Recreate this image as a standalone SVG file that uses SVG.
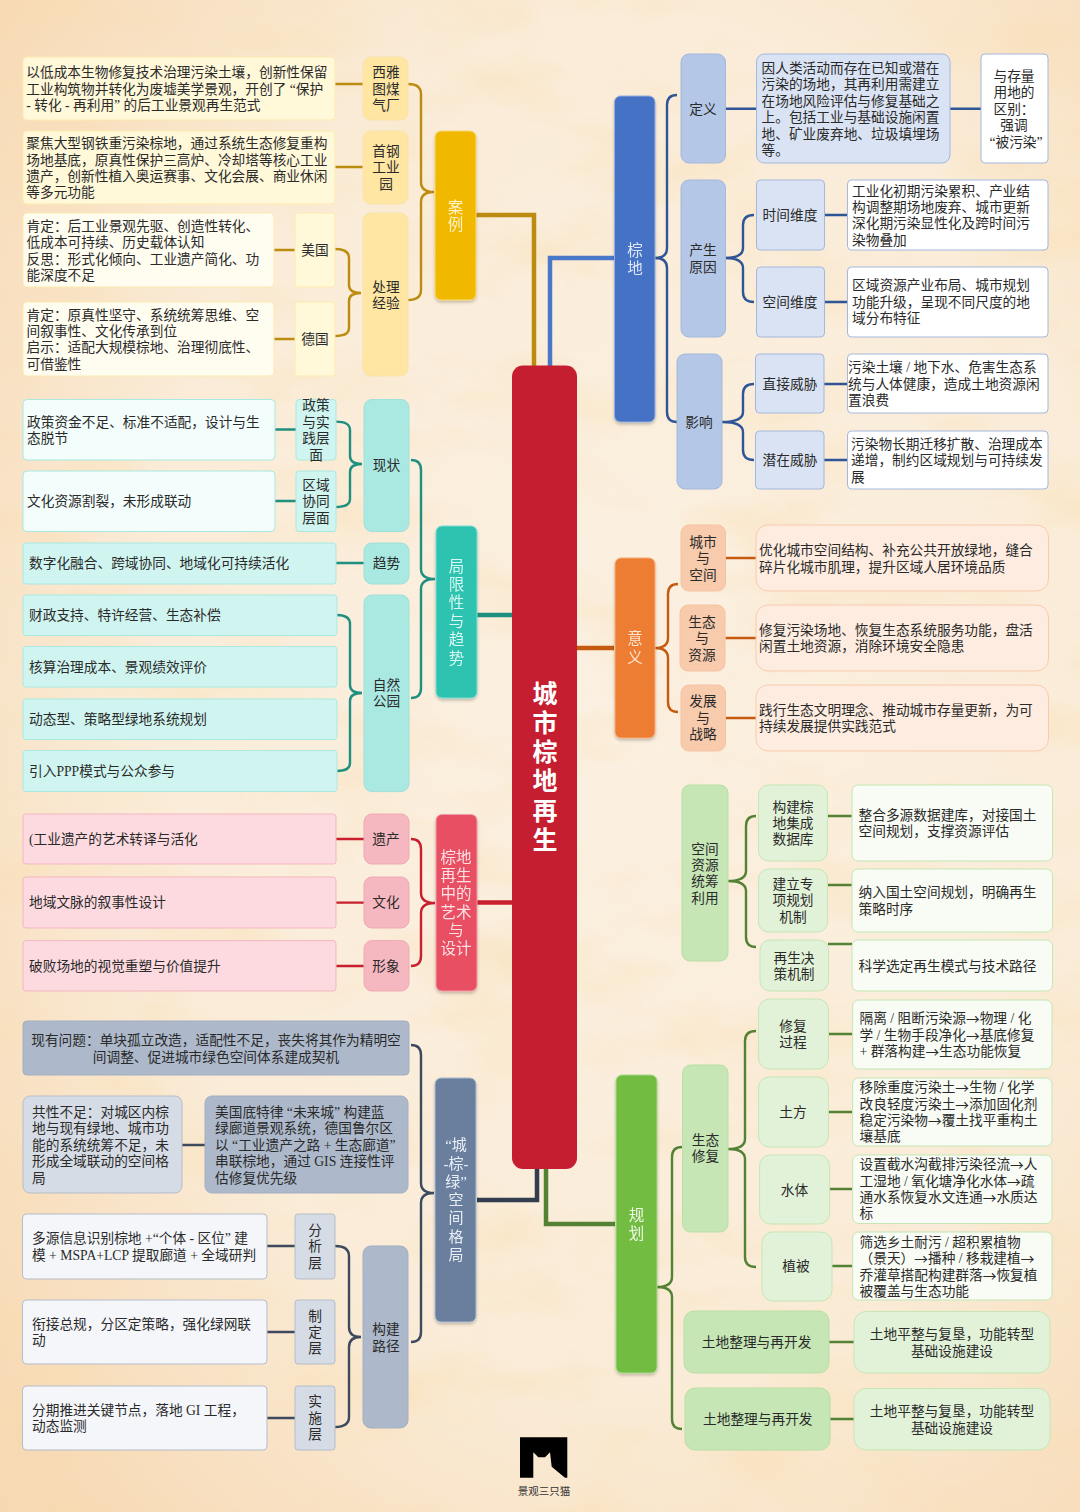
<svg xmlns="http://www.w3.org/2000/svg" width="1080" height="1512" viewBox="0 0 1080 1512">
<style>
text{font-family:"Liberation Serif","Noto Sans CJK SC",sans-serif;font-size:13.7px;fill:#2a2a2a;dominant-baseline:central}
.c{text-anchor:middle}
.w{font-size:15.5px;fill:#fff;text-anchor:middle}
.a{font-family:"Noto Sans CJK SC",sans-serif}
path{fill:none;stroke-linejoin:miter}
rect{stroke-width:1}
.y0{fill:#f1b800;stroke:#f9d873}.y1{fill:#ffe6a3;stroke:#fbe3a8}.y2{fill:#fff8d9;stroke:#fdeab0}.y3{fill:#fffcf0;stroke:#fdeab0}
.t0{fill:#2fc3b0;stroke:#7fdccf}.t1{fill:#a9e9e1;stroke:#9fe0d8}.t2{fill:#d0f5f0;stroke:#a9e9e1}.t3{fill:#f3fdfb;stroke:#a9e9e1}
.r0{fill:#e84f62;stroke:#f29aa5}.r1{fill:#f5b7c0;stroke:#f2a9b3}.r2{fill:#fcdae0;stroke:#f5b7c0}
.s0{fill:#6a7f9e;stroke:#aebcd0}.s1{fill:#adb9ca;stroke:#a3afc1}.s2{fill:#d6dce5;stroke:#b5bdc9}.s3{fill:#f4f6fa;stroke:#b5bdc9}
.b0{fill:#4472c4;stroke:#93aee0}.b1{fill:#b4c7e7;stroke:#a3b8dc}.b2{fill:#dae3f3;stroke:#a3b8dc}.b3{fill:#fff;stroke:#a3b8dc}
.o0{fill:#ed7d31;stroke:#f5ad7a}.o1{fill:#f8cbad;stroke:#f6c3a2}.o2{fill:#fdecdf;stroke:#f8cbad}
.g0{fill:#72bc42;stroke:#a7d88a}.g1{fill:#c6e6b5;stroke:#b9dfa5}.g2{fill:#e2f2d8;stroke:#c6e6b5}.g3{fill:#f8fcf4;stroke:#c6e6b5}
.ly{stroke:#bb8c10}.lt{stroke:#1f9080}.lr{stroke:#c8202f}.ls{stroke:#3d4a5e}.lb{stroke:#2f5597}.lo{stroke:#c55a11}.lg{stroke:#548235}
.thin{stroke-width:2.4}.thick{stroke-width:4.5}
.sh{filter:url(#sh)}
</style>
<defs>
<radialGradient id="bg" cx="0.58" cy="0.46" r="0.75">
<stop offset="0" stop-color="#fbf0e1"/><stop offset="0.6" stop-color="#faecd8"/><stop offset="1" stop-color="#f7d9b3"/>
</radialGradient>
<filter id="sh" x="-30%" y="-10%" width="160%" height="120%"><feDropShadow dx="0" dy="2" stdDeviation="1.5" flood-color="#000" flood-opacity="0.22"/></filter>
<filter id="veins" x="0" y="0" width="100%" height="100%">
<feTurbulence type="fractalNoise" baseFrequency="0.007 0.014" numOctaves="5" seed="7"/>
<feColorMatrix values="0 0 0 0 0.95  0 0 0 0 0.72  0 0 0 0 0.42  2.6 0 0 0 -1.25"/>
</filter>
</defs>
<rect id="background" width="1080" height="1512" fill="url(#bg)" stroke="none"/>
<rect width="1080" height="1512" filter="url(#veins)" opacity="0.4" stroke="none"/>

<g id="connectors">
<path class="ly thick" d="M476 215H534V366"/>
<path class="thick" style="stroke:#4a78c8" d="M614 258H550V366"/>
<path class="lt thick" d="M477 615H512"/>
<path class="lr thick" d="M477 902.600H512"/>
<path class="lo thick" d="M577 648H614"/>
<path class="thick" style="stroke:#323e50" d="M477 1200H537V1169"/>
<path class="lg thick" d="M615 1224H546V1169"/>

<path class="ly thin" d="M335 84H363M335 167H363M274 250H295M274 339H295"/>
<path class="ly thin" d="M335 249Q349 249 349 258V285Q349 293 361 293M335 336Q349 336 349 328V301Q349 293 361 293"/>
<path class="ly thin" d="M408 84Q421 84 421 94V182Q421 192 434 192M408 300Q421 300 421 290V202Q421 192 434 192"/>

<path class="lt thin" d="M275 429.500H296M275 501H296M336 563H364"/>
<path class="lt thin" d="M336 421.600Q350 421.600 350 430V456Q350 464 362 464M336 507Q350 507 350 499V472Q350 464 362 464"/>
<path class="lt thin" d="M337 615Q350 615 350 624V685Q350 693 362 693M337 771Q350 771 350 763V701Q350 693 362 693"/>
<path class="lt thin" d="M411 460Q421 460 421 470V569Q421 579 435 579M411 698Q421 698 421 688V589Q421 579 435 579"/>

<path class="lr thin" d="M336 839H364M336 902.600H364M336 966H364"/>
<path class="lr thin" d="M411 839Q421 839 421 849V893Q421 903 435 903M411 966Q421 966 421 956V913Q421 903 435 903"/>

<path class="ls thin" d="M182 1145H205M267 1246H295M267 1332H295M267 1418H295"/>
<path class="ls thin" d="M335 1246Q349 1246 349 1256V1327Q349 1337 361 1337M335 1427Q349 1427 349 1417V1347Q349 1337 361 1337"/>
<path class="ls thin" d="M411 1045Q421 1045 421 1055V1183Q421 1193 434 1193M411 1342Q421 1342 421 1332V1203Q421 1193 434 1193"/>

<path class="lb thin" d="M725 108.700H756M950 108.700H981M824 215H847M824 302H847M824 384H847M824 460H847"/>
<path class="lb thin" d="M655 258Q667 258 667 248V105Q667 95 677 95M655 258Q667 258 667 268V412Q667 422 677 422"/>
<path class="lb thin" d="M725 258Q743 258 743 248V225Q743 215 754 215M725 258Q743 258 743 268V292Q743 302 754 302"/>
<path class="lb thin" d="M722 422Q743 422 743 412V394Q743 384 754 384M722 422Q743 422 743 432V450Q743 460 754 460"/>

<path class="lo thin" d="M725.500 558H756M725.500 638H756M725.500 718H756"/>
<path class="lo thin" d="M655 648Q668 648 668 638V594Q668 584 678 584M655 648Q668 648 668 658V702Q668 712 678 712"/>

<path class="lg thin" d="M828 816H852M828 885H852M828 944H852"/>
<path class="lg thin" d="M728 881Q746 881 746 871V826Q746 816 756 816M728 881Q746 881 746 891V937Q746 947 756 947"/>
<path class="lg thin" d="M828 1034H852M828 1112H852M829 1189H852M832 1266H852M829 1342H854M830 1419H854"/>
<path class="lg thin" d="M728 1149Q745 1149 745 1139V1041Q745 1031 756 1031M728 1149Q745 1149 745 1159V1257Q745 1267 756 1267"/>
<path class="lg thin" d="M657 1287Q672 1287 672 1277V1157Q672 1147 682 1147M657 1287Q672 1287 672 1297V1419Q672 1429 682 1429"/>
</g>

<g id="root"><rect x="512" y="365.500" width="65" height="803.500" rx="11" fill="#c41e30" stroke="none"/>
<text x="545" style="font-size:25px;font-weight:700;fill:#fff;text-anchor:middle"><tspan x="545" y="694">城</tspan><tspan x="545" y="723">市</tspan><tspan x="545" y="752">棕</tspan><tspan x="545" y="781">地</tspan><tspan x="545" y="811">再</tspan><tspan x="545" y="840">生</tspan></text></g>

<!-- 案例 -->
<g id="n-case" class="sh"><rect class="y0" x="435" y="131" width="41" height="169" rx="6"/><text class="w" style="fill:#fff3c8"><tspan x="455.500" y="207">案</tspan><tspan x="455.500" y="224">例</tspan></text></g>
<g id="n-seattle"><rect class="y1" x="363" y="57" width="45" height="63" rx="8"/><text class="c"><tspan x="386" y="72">西雅</tspan><tspan x="386" y="88.700">图煤</tspan><tspan x="386" y="105">气厂</tspan></text></g>
<g id="t-seattle"><rect class="y2" x="23" y="57" width="312" height="63" rx="4"/><text><tspan x="26.300" y="72">以低成本生物修复技术治理污染土壤，创新性保留</tspan><tspan x="26.300" y="88.700">工业构筑物并转化为废墟美学景观，开创了 “保护</tspan><tspan x="26.300" y="105">- 转化 - 再利用” 的后工业景观再生范式</tspan></text></g>
<g id="n-shougang"><rect class="y1" x="363" y="131" width="45" height="73" rx="8"/><text class="c"><tspan x="386" y="151">首钢</tspan><tspan x="386" y="167">工业</tspan><tspan x="386" y="184">园</tspan></text></g>
<g id="t-shougang"><rect class="y2" x="23" y="131" width="312" height="73" rx="4"/><text><tspan x="26.300" y="143">聚焦大型钢铁重污染棕地，通过系统生态修复重构</tspan><tspan x="26.300" y="160">场地基底，原真性保护三高炉、冷却塔等核心工业</tspan><tspan x="26.300" y="176">遗产，创新性植入奥运赛事、文化会展、商业休闲</tspan><tspan x="26.300" y="192">等多元功能</tspan></text></g>
<g id="n-exp"><rect class="y1" x="363" y="213" width="45" height="163" rx="8"/><text class="c"><tspan x="386" y="287">处理</tspan><tspan x="386" y="303">经验</tspan></text></g>
<g id="n-us"><rect class="y2" x="295" y="213" width="40" height="74" rx="3"/><text class="c" x="315" y="250">美国</text></g>
<g id="t-us"><rect class="y3" x="23" y="213" width="251" height="74" rx="4"/><text><tspan x="26.500" y="226">肯定：后工业景观先驱、创造性转化、</tspan><tspan x="26.500" y="242">低成本可持续、历史载体认知</tspan><tspan x="26.500" y="259">反思：形式化倾向、工业遗产简化、功</tspan><tspan x="26.500" y="275">能深度不足</tspan></text></g>
<g id="n-de"><rect class="y2" x="295" y="302" width="40" height="74" rx="3"/><text class="c" x="315" y="339">德国</text></g>
<g id="t-de"><rect class="y3" x="23" y="302" width="251" height="74" rx="4"/><text><tspan x="26.500" y="315">肯定：原真性坚守、系统统筹思维、空</tspan><tspan x="26.500" y="331">间叙事性、文化传承到位</tspan><tspan x="26.500" y="347">启示：适配大规模棕地、治理彻底性、</tspan><tspan x="26.500" y="364">可借鉴性</tspan></text></g>

<!-- 局限性与趋势 -->
<g id="n-limit" class="sh"><rect class="t0" x="436" y="526" width="41" height="172" rx="6"/><text class="w" style="fill:#d6f7f2"><tspan x="456.500" y="566">局</tspan><tspan x="456.500" y="584">限</tspan><tspan x="456.500" y="602">性</tspan><tspan x="456.500" y="621">与</tspan><tspan x="456.500" y="639">趋</tspan><tspan x="456.500" y="657.600">势</tspan></text></g>
<g id="n-status"><rect class="t1" x="364" y="399.500" width="45" height="132" rx="8"/><text class="c" x="386.500" y="465">现状</text></g>
<g id="n-policy"><rect class="t2" x="296" y="399.500" width="40" height="60.500" rx="3"/><text class="c"><tspan x="316" y="405">政策</tspan><tspan x="316" y="421.600">与实</tspan><tspan x="316" y="438">践层</tspan><tspan x="316" y="455">面</tspan></text></g>
<g id="t-policy"><rect class="t3" x="23" y="399.500" width="252" height="60.500" rx="4"/><text><tspan x="27" y="421.600">政策资金不足、标准不适配，设计与生</tspan><tspan x="27" y="438">态脱节</tspan></text></g>
<g id="n-region"><rect class="t2" x="296" y="471" width="40" height="60.500" rx="3"/><text class="c"><tspan x="316" y="485">区域</tspan><tspan x="316" y="501">协同</tspan><tspan x="316" y="517.700">层面</tspan></text></g>
<g id="t-region"><rect class="t3" x="23" y="471" width="252" height="60.500" rx="4"/><text x="27" y="501">文化资源割裂，未形成联动</text></g>
<g id="n-trend"><rect class="t1" x="364" y="543" width="45" height="41" rx="8"/><text class="c" x="386.500" y="563">趋势</text></g>
<g id="t-trend"><rect class="t2" x="23" y="543" width="313" height="41" rx="3"/><text x="29" y="563">数字化融合、跨域协同、地域化可持续活化</text></g>
<g id="n-park"><rect class="t1" x="364" y="595" width="45" height="196.600" rx="8"/><text class="c"><tspan x="386.500" y="685">自然</tspan><tspan x="386.500" y="701">公园</tspan></text></g>
<g id="t-park1"><rect class="t2" x="23" y="595" width="314" height="40.500" rx="3"/><text x="29" y="615">财政支持、特许经营、生态补偿</text></g>
<g id="t-park2"><rect class="t2" x="23" y="646.500" width="314" height="40.500" rx="3"/><text x="29" y="667">核算治理成本、景观绩效评价</text></g>
<g id="t-park3"><rect class="t2" x="23" y="699" width="314" height="40.500" rx="3"/><text x="29" y="719">动态型、策略型绿地系统规划</text></g>
<g id="t-park4"><rect class="t2" x="23" y="750.500" width="314" height="41" rx="3"/><text x="29" y="771">引入PPP模式与公众参与</text></g>

<!-- 艺术与设计 -->
<g id="n-art" class="sh"><rect class="r0" x="436" y="814.500" width="41" height="176.500" rx="6"/><text class="w" style="fill:#fde0e4"><tspan x="456" y="857">棕地</tspan><tspan x="456" y="875">再生</tspan><tspan x="456" y="893">中的</tspan><tspan x="456" y="911.700">艺术</tspan><tspan x="456" y="930">与</tspan><tspan x="456" y="948">设计</tspan></text></g>
<g id="n-heritage"><rect class="r1" x="364" y="814" width="45" height="50" rx="8"/><text class="c" x="386" y="839">遗产</text></g>
<g id="t-heritage"><rect class="r2" x="23" y="814" width="313" height="50" rx="3"/><text x="29" y="839">(工业遗产的艺术转译与活化</text></g>
<g id="n-culture"><rect class="r1" x="364" y="877" width="45" height="51" rx="8"/><text class="c" x="386" y="902.600">文化</text></g>
<g id="t-culture"><rect class="r2" x="23" y="877" width="313" height="51" rx="3"/><text x="29" y="902.600">地域文脉的叙事性设计</text></g>
<g id="n-image"><rect class="r1" x="364" y="940.600" width="45" height="50.400" rx="8"/><text class="c" x="386" y="966">形象</text></g>
<g id="t-image"><rect class="r2" x="23" y="940.600" width="313" height="50.400" rx="3"/><text x="29" y="966">破败场地的视觉重塑与价值提升</text></g>

<!-- 城棕绿 -->
<g id="n-pattern" class="sh"><rect class="s0" x="435" y="1078" width="41" height="244" rx="6"/><text class="w" style="fill:#e9eef5;font-size:15px"><tspan x="456" y="1145">“城</tspan><tspan x="456" y="1164">-棕-</tspan><tspan x="456" y="1182">绿”</tspan><tspan x="456" y="1200">空</tspan><tspan x="456" y="1218">间</tspan><tspan x="456" y="1237">格</tspan><tspan x="456" y="1255">局</tspan></text></g>
<g id="t-issue"><rect class="s1" x="23" y="1021" width="386" height="54" rx="4"/><text class="c"><tspan x="216" y="1040">现有问题：单块孤立改造，适配性不足，丧失将其作为精明空</tspan><tspan x="216" y="1056.500">间调整、促进城市绿色空间体系建成契机</tspan></text></g>
<g id="t-common"><rect class="s2" x="23" y="1096" width="159" height="97" rx="7"/><text><tspan x="32" y="1112">共性不足：对城区内棕</tspan><tspan x="32" y="1128">地与现有绿地、城市功</tspan><tspan x="32" y="1145">能的系统统筹不足，未</tspan><tspan x="32" y="1161">形成全域联动的空间格</tspan><tspan x="32" y="1178">局</tspan></text></g>
<g id="t-detroit"><rect class="s1" x="205" y="1096" width="203" height="97" rx="7"/><text><tspan x="215" y="1112">美国底特律 “未来城” 构建蓝</tspan><tspan x="215" y="1128">绿廊道景观系统，德国鲁尔区</tspan><tspan x="215" y="1145">以 “工业遗产之路 + 生态廊道”</tspan><tspan x="215" y="1161">串联棕地，通过 GIS 连接性评</tspan><tspan x="215" y="1178">估修复优先级</tspan></text></g>
<g id="n-route"><rect class="s1" x="363" y="1246" width="45" height="182" rx="8"/><text class="c"><tspan x="386" y="1329">构建</tspan><tspan x="386" y="1346">路径</tspan></text></g>
<g id="n-analysis"><rect class="s2" x="295" y="1214" width="40" height="65" rx="3"/><text class="c"><tspan x="315" y="1230">分</tspan><tspan x="315" y="1246">析</tspan><tspan x="315" y="1263">层</tspan></text></g>
<g id="t-analysis"><rect class="s3" x="22.500" y="1214" width="244.500" height="65" rx="4"/><text><tspan x="32" y="1238">多源信息识别棕地 +“个体 - 区位” 建</tspan><tspan x="32" y="1255">模 + MSPA+LCP 提取廊道 + 全域研判</tspan></text></g>
<g id="n-plan"><rect class="s2" x="295" y="1300" width="40" height="64" rx="3"/><text class="c"><tspan x="315" y="1316">制</tspan><tspan x="315" y="1332">定</tspan><tspan x="315" y="1348">层</tspan></text></g>
<g id="t-plan"><rect class="s3" x="22.500" y="1300" width="244.500" height="64" rx="4"/><text><tspan x="32" y="1324">衔接总规，分区定策略，强化绿网联</tspan><tspan x="32" y="1340">动</tspan></text></g>
<g id="n-impl"><rect class="s2" x="295" y="1386" width="40" height="64" rx="3"/><text class="c"><tspan x="315" y="1401">实</tspan><tspan x="315" y="1418">施</tspan><tspan x="315" y="1434">层</tspan></text></g>
<g id="t-impl"><rect class="s3" x="22.500" y="1386" width="244.500" height="64" rx="4"/><text><tspan x="32" y="1410">分期推进关键节点，落地 GI 工程，</tspan><tspan x="32" y="1426">动态监测</tspan></text></g>

<!-- 棕地 -->
<g id="n-brown" class="sh"><rect class="b0" x="614.500" y="96" width="40.500" height="326" rx="6"/><text class="w" style="fill:#dfe8f8"><tspan x="635" y="250">棕</tspan><tspan x="635" y="268">地</tspan></text></g>
<g id="n-def"><rect class="b1" x="681" y="54" width="44.500" height="109" rx="8"/><text class="c" x="703" y="109">定义</text></g>
<g id="t-def"><rect class="b2" x="756.500" y="54" width="193.500" height="109" rx="8"/><text><tspan x="761.500" y="68">因人类活动而存在已知或潜在</tspan><tspan x="761.500" y="84">污染的场地，其再利用需建立</tspan><tspan x="761.500" y="101">在场地风险评估与修复基础之</tspan><tspan x="761.500" y="117">上。包括工业与基础设施闲置</tspan><tspan x="761.500" y="134">地、矿业废弃地、垃圾填埋场</tspan><tspan x="761.500" y="150">等。</tspan></text></g>
<g id="t-diff"><rect class="b3" x="981" y="54" width="67" height="109" rx="4"/><text class="c"><tspan x="1014" y="76">与存量</tspan><tspan x="1014" y="92">用地的</tspan><tspan x="1014" y="109">区别：</tspan><tspan x="1014" y="125">强调</tspan><tspan x="1016" y="142">“被污染”</tspan></text></g>
<g id="n-cause"><rect class="b1" x="681" y="180" width="44.500" height="157" rx="8"/><text class="c"><tspan x="703" y="250">产生</tspan><tspan x="703" y="267">原因</tspan></text></g>
<g id="n-time"><rect class="b2" x="756.500" y="180" width="68" height="70" rx="4"/><text class="c" x="790" y="215">时间维度</text></g>
<g id="t-time"><rect class="b3" x="847.500" y="180" width="200.500" height="70" rx="4"/><text><tspan x="852" y="191">工业化初期污染累积、产业结</tspan><tspan x="852" y="207">构调整期场地废弃、城市更新</tspan><tspan x="852" y="223">深化期污染显性化及跨时间污</tspan><tspan x="852" y="240">染物叠加</tspan></text></g>
<g id="n-space"><rect class="b2" x="756.500" y="267" width="68" height="70" rx="4"/><text class="c" x="790" y="302">空间维度</text></g>
<g id="t-space"><rect class="b3" x="847.500" y="267" width="200.500" height="70" rx="4"/><text><tspan x="852" y="285">区域资源产业布局、城市规划</tspan><tspan x="852" y="302">功能升级，呈现不同尺度的地</tspan><tspan x="852" y="318">域分布特征</tspan></text></g>
<g id="n-impact"><rect class="b1" x="677" y="354" width="45" height="135" rx="8"/><text class="c" x="699" y="422">影响</text></g>
<g id="n-direct"><rect class="b2" x="755.500" y="354" width="68.500" height="59" rx="4"/><text class="c" x="790" y="384">直接威胁</text></g>
<g id="t-direct"><rect class="b3" x="847.500" y="354" width="200.500" height="59" rx="4"/><text><tspan x="848" y="367">污染土壤 / 地下水、危害生态系</tspan><tspan x="848" y="384">统与人体健康，造成土地资源闲</tspan><tspan x="848" y="400">置浪费</tspan></text></g>
<g id="n-latent"><rect class="b2" x="755.500" y="431" width="68.500" height="58" rx="4"/><text class="c" x="790" y="460">潜在威胁</text></g>
<g id="t-latent"><rect class="b3" x="847.500" y="431" width="200.500" height="58" rx="4"/><text><tspan x="851" y="444">污染物长期迁移扩散、治理成本</tspan><tspan x="851" y="460">递增，制约区域规划与可持续发</tspan><tspan x="851" y="477">展</tspan></text></g>

<!-- 意义 -->
<g id="n-meaning" class="sh"><rect class="o0" x="615" y="558" width="40" height="180" rx="6"/><text class="w" style="fill:#fde4d2"><tspan x="635" y="638">意</tspan><tspan x="635" y="657">义</tspan></text></g>
<g id="n-city"><rect class="o1" x="681" y="525" width="44.500" height="66" rx="8"/><text class="c"><tspan x="703" y="542">城市</tspan><tspan x="703" y="558">与</tspan><tspan x="703" y="575">空间</tspan></text></g>
<g id="t-city"><rect class="o2" x="756" y="525" width="292.500" height="66" rx="12"/><text><tspan x="759" y="550">优化城市空间结构、补充公共开放绿地，缝合</tspan><tspan x="759" y="567">碎片化城市肌理，提升区域人居环境品质</tspan></text></g>
<g id="n-eco"><rect class="o1" x="680" y="605" width="45" height="66" rx="8"/><text class="c"><tspan x="702" y="622">生态</tspan><tspan x="702" y="638">与</tspan><tspan x="702" y="655">资源</tspan></text></g>
<g id="t-eco"><rect class="o2" x="756" y="605" width="292.500" height="66" rx="12"/><text><tspan x="759" y="630">修复污染场地、恢复生态系统服务功能，盘活</tspan><tspan x="759" y="646">闲置土地资源，消除环境安全隐患</tspan></text></g>
<g id="n-dev"><rect class="o1" x="681" y="685" width="44.500" height="66" rx="8"/><text class="c"><tspan x="703" y="701">发展</tspan><tspan x="703" y="718">与</tspan><tspan x="703" y="734">战略</tspan></text></g>
<g id="t-dev"><rect class="o2" x="756" y="685" width="292.500" height="66" rx="12"/><text><tspan x="759" y="710">践行生态文明理念、推动城市存量更新，为可</tspan><tspan x="759" y="726">持续发展提供实践范式</tspan></text></g>

<!-- 规划 -->
<g id="n-planning" class="sh"><rect class="g0" x="616" y="1075" width="41" height="298" rx="6"/><text class="w" style="fill:#eef9e6"><tspan x="636.500" y="1215">规</tspan><tspan x="636.500" y="1233">划</tspan></text></g>
<g id="n-resource"><rect class="g1" x="682" y="785" width="46" height="176" rx="8"/><text class="c"><tspan x="705" y="849">空间</tspan><tspan x="705" y="865">资源</tspan><tspan x="705" y="881">统筹</tspan><tspan x="705" y="898">利用</tspan></text></g>
<g id="n-db"><rect class="g2" x="758.500" y="785" width="69" height="76" rx="10"/><text class="c"><tspan x="793" y="807">构建棕</tspan><tspan x="793" y="823">地集成</tspan><tspan x="793" y="839">数据库</tspan></text></g>
<g id="t-db"><rect class="g3" x="852" y="785" width="200.500" height="76" rx="6"/><text><tspan x="858.500" y="815">整合多源数据建库，对接国土</tspan><tspan x="858.500" y="831">空间规划，支撑资源评估</tspan></text></g>
<g id="n-mech"><rect class="g2" x="758.500" y="869" width="69" height="63" rx="10"/><text class="c"><tspan x="793" y="884">建立专</tspan><tspan x="793" y="900">项规划</tspan><tspan x="793" y="917">机制</tspan></text></g>
<g id="t-mech"><rect class="g3" x="852" y="869" width="200.500" height="63" rx="6"/><text><tspan x="858.500" y="892">纳入国土空间规划，明确再生</tspan><tspan x="858.500" y="909">策略时序</tspan></text></g>
<g id="n-decide"><rect class="g2" x="760" y="940" width="68.600" height="51" rx="10"/><text class="c"><tspan x="794" y="958">再生决</tspan><tspan x="794" y="974">策机制</tspan></text></g>
<g id="t-decide"><rect class="g3" x="852" y="940" width="200.500" height="51" rx="6"/><text x="858.500" y="966">科学选定再生模式与技术路径</text></g>
<g id="n-restore"><rect class="g1" x="682.600" y="1065" width="45.400" height="167" rx="8"/><text class="c"><tspan x="705.500" y="1140">生态</tspan><tspan x="705.500" y="1156">修复</tspan></text></g>
<g id="n-process"><rect class="g2" x="758.500" y="999" width="70" height="70" rx="11"/><text class="c"><tspan x="793" y="1026">修复</tspan><tspan x="793" y="1042">过程</tspan></text></g>
<g id="t-process"><rect class="g3" x="852.600" y="1000" width="199.400" height="69" rx="6"/><text><tspan x="859.500" y="1018">隔离 / 阻断污染源<tspan class="a">→</tspan>物理 / 化</tspan><tspan x="859.500" y="1035">学 / 生物手段净化<tspan class="a">→</tspan>基底修复</tspan><tspan x="859.500" y="1051">+ 群落构建<tspan class="a">→</tspan>生态功能恢复</tspan></text></g>
<g id="n-earth"><rect class="g2" x="758.500" y="1077" width="70" height="70" rx="11"/><text class="c" x="793" y="1112">土方</text></g>
<g id="t-earth"><rect class="g3" x="852.600" y="1078" width="199.400" height="68" rx="6"/><text><tspan x="859.500" y="1087">移除重度污染土<tspan class="a">→</tspan>生物 / 化学</tspan><tspan x="859.500" y="1104">改良轻度污染土<tspan class="a">→</tspan>添加固化剂</tspan><tspan x="859.500" y="1120">稳定污染物<tspan class="a">→</tspan>覆土找平重构土</tspan><tspan x="859.500" y="1136">壤基底</tspan></text></g>
<g id="n-water"><rect class="g2" x="759.600" y="1155" width="70" height="69" rx="11"/><text class="c" x="794.400" y="1190">水体</text></g>
<g id="t-water"><rect class="g3" x="852.600" y="1155" width="199.400" height="68.500" rx="6"/><text><tspan x="859.500" y="1164">设置截水沟截排污染径流<tspan class="a">→</tspan>人</tspan><tspan x="859.500" y="1181">工湿地 / 氧化塘净化水体<tspan class="a">→</tspan>疏</tspan><tspan x="859.500" y="1197">通水系恢复水文连通<tspan class="a">→</tspan>水质达</tspan><tspan x="859.500" y="1213">标</tspan></text></g>
<g id="n-plant"><rect class="g2" x="762" y="1232" width="70" height="69" rx="11"/><text class="c" x="796" y="1266">植被</text></g>
<g id="t-plant"><rect class="g3" x="852.600" y="1232" width="199.400" height="68" rx="6"/><text><tspan x="859.500" y="1242">筛选乡土耐污 / 超积累植物</tspan><tspan x="859.500" y="1258">（景天）<tspan class="a">→</tspan>播种 / 移栽建植<tspan class="a">→</tspan></tspan><tspan x="859.500" y="1275">乔灌草搭配构建群落<tspan class="a">→</tspan>恢复植</tspan><tspan x="859.500" y="1291">被覆盖与生态功能</tspan></text></g>
<g id="n-land1"><rect class="g1" x="684" y="1311" width="145" height="62" rx="10"/><text class="c" x="756.600" y="1342">土地整理与再开发</text></g>
<g id="t-land1"><rect class="g2" x="854" y="1311.500" width="196" height="61.500" rx="12"/><text class="c"><tspan x="952" y="1334">土地平整与复垦，功能转型</tspan><tspan x="952" y="1351">基础设施建设</tspan></text></g>
<g id="n-land2"><rect class="g1" x="685" y="1388" width="145" height="62" rx="10"/><text class="c" x="757.800" y="1419">土地整理与再开发</text></g>
<g id="t-land2"><rect class="g2" x="854" y="1388.500" width="196" height="61.500" rx="12"/><text class="c"><tspan x="952" y="1411">土地平整与复垦，功能转型</tspan><tspan x="952" y="1428">基础设施建设</tspan></text></g>

<g id="logo"><path d="M520 1437.300H567.300V1477.700H565L551.700 1466.700L550 1452.300L545 1457.300H538.300L533.300 1452.300V1477.700H520Z" style="fill:#000;stroke:none"/>
<text class="c" x="544" y="1491" style="font-size:10.500px;fill:#333">景观三只猫</text></g>
</svg>
